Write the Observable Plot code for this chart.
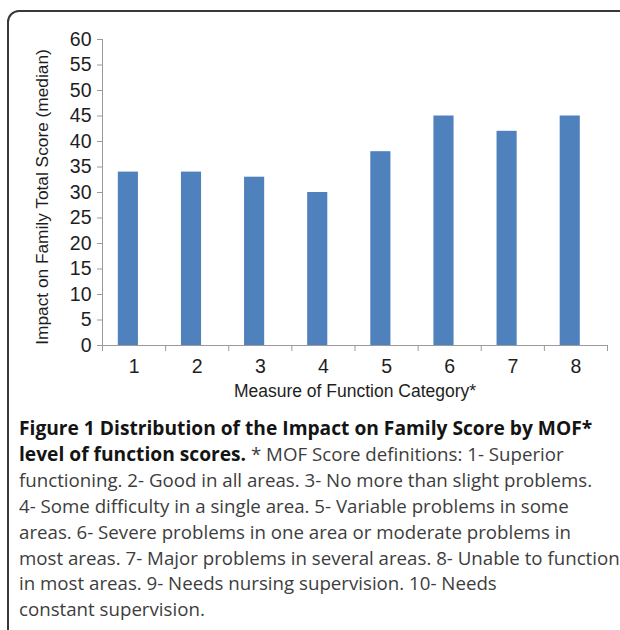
<!DOCTYPE html>
<html>
<head>
<meta charset="utf-8">
<script src="https://cdn.jsdelivr.net/npm/d3@7"></script>
<script src="https://cdn.jsdelivr.net/npm/@observablehq/plot@0.6"></script>
<style>
  html, body { margin: 0; padding: 0; background: #fff; width: 620px; height: 630px; overflow: hidden; }
  #frame { position: absolute; left: 7px; top: 10px; width: 700px; height: 700px; border: 2px solid #383838; border-radius: 12px; box-sizing: border-box; }
  #chart { position: absolute; left: 0; top: 0; }
  #caption { position: absolute; left: 19px; top: 415px; font-family: "Open Sans", sans-serif; font-size: 18.7px; line-height: 25.9px; color: #3d3d3d; white-space: nowrap; }
  #caption b { color: #141414; font-weight: 700; font-size: 19.2px; line-height: 25.9px; }
</style>
</head>
<body>
<div id="frame"></div>
<div id="chart"></div>
<div id="caption">
  <div><b>Figure 1 Distribution of the Impact on Family Score by MOF*</b></div>
  <div><b>level of function scores.</b> * MOF Score definitions: 1- Superior</div>
  <div>functioning. 2- Good in all areas. 3- No more than slight problems.</div>
  <div>4- Some difficulty in a single area. 5- Variable problems in some</div>
  <div>areas. 6- Severe problems in one area or moderate problems in</div>
  <div>most areas. 7- Major problems in several areas. 8- Unable to function</div>
  <div>in most areas. 9- Needs nursing supervision. 10- Needs</div>
  <div>constant supervision.</div>
</div>
<script>
const categories = [1, 2, 3, 4, 5, 6, 7, 8];
const medians = [34, 34, 33, 30, 38, 45, 42, 45];
const yTicks = [0, 5, 10, 15, 20, 25, 30, 35, 40, 45, 50, 55, 60];
const xTitle = "Measure of Function Category*";
const yTitle = "Impact on Family Total Score (median)";

const data = categories.map((c, i) => ({cat: c, value: medians[i]}));
const boundaries = categories.map(c => c - 0.5).concat([categories[categories.length - 1] + 0.5]);

const axisColor = "#9a9a9a";
const textColor = "#1e1e1e";
const font = "'Liberation Sans', Arial, sans-serif";

const chart = Plot.plot({
  width: 620,
  height: 400,
  marginLeft: 102,
  marginRight: 13,
  marginTop: 39,
  marginBottom: 55,
  style: { fontFamily: font, fontSize: "19.5px", color: textColor, background: "transparent", overflow: "visible" },
  x: { type: "linear", domain: [0.5, 8.5] },
  y: { domain: [0, 60] },
  marks: [
    Plot.rectY(data, { x1: d => d.cat - 0.5, x2: d => d.cat + 0.5, y: "value", insetLeft: 21.5, insetRight: 21.5, dx: -5.7, fill: "#4f81bd" }),
    Plot.ruleX([0.5], { stroke: axisColor, strokeWidth: 1 }),
    Plot.ruleY([0], { stroke: axisColor, strokeWidth: 1 }),
    Plot.axisY({ ticks: yTicks, tickSize: 5, tickPadding: 6, stroke: axisColor, fill: textColor, fontSize: 19.5, label: null }),
    Plot.axisX({ ticks: boundaries, tickSize: 6, tickFormat: () => "", stroke: axisColor, label: null }),
    Plot.axisX({ ticks: categories, tickSize: 0, tickPadding: 14, fill: textColor, fontSize: 19.5, label: null }),
    Plot.text([xTitle], { text: d => d, frameAnchor: "bottom", dy: 46, lineAnchor: "middle", textAnchor: "middle", fontSize: 17.5, fill: textColor }),
    Plot.text([yTitle], { text: d => d, frameAnchor: "left", rotate: -90, dx: -60, dy: 4.5, lineAnchor: "middle", textAnchor: "middle", fontSize: 17.3, fill: textColor })
  ]
});
document.getElementById("chart").appendChild(chart);
</script>
</body>
</html>
